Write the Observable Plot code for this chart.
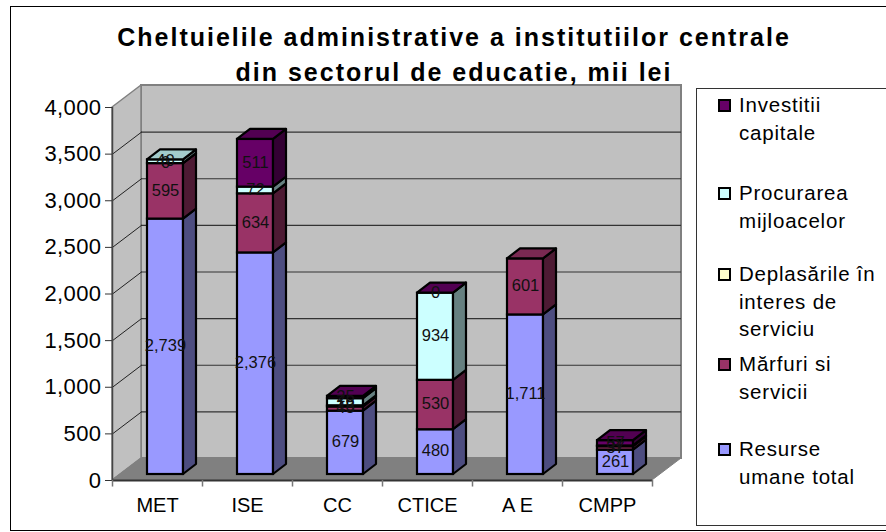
<!DOCTYPE html>
<html>
<head>
<meta charset="utf-8">
<script src="https://cdn.jsdelivr.net/npm/d3@7"></script>
<script src="https://cdn.jsdelivr.net/npm/@observablehq/plot@0.6"></script>
<style>
  html, body { margin: 0; padding: 0; background: #fff; }
  #chart { position: relative; width: 886px; height: 532px; overflow: hidden; font-family: "Liberation Sans", Arial, sans-serif; color: #000; }
  #chart svg { position: absolute; left: 0; top: 0; }
  #frame { position: absolute; left: 10px; top: 6px; width: 900px; height: 525px; border: 1px solid #000; box-sizing: border-box; }
  #title { position: absolute; left: 54px; width: 800px; top: 20px; text-align: center; font-weight: bold; font-size: 25px; line-height: 35px; letter-spacing: 2px; }
  #legend { position: absolute; left: 696px; top: 88px; width: 300px; height: 438px; border: 1px solid #333; box-sizing: border-box; background: #fff; }
  .item { position: absolute; left: 42px; font-size: 20.5px; line-height: 27.5px; letter-spacing: 0.8px; white-space: nowrap; }
  .sw { position: absolute; left: -21px; top: 8px; width: 13px; height: 13px; border: 2px solid #000; box-sizing: border-box; }
  g[aria-label="y-axis tick label"] text { letter-spacing: 0.4px; }
</style>
</head>
<body>
<div id="chart">
  <div id="frame"></div>
  <div id="title">Cheltuielile administrative a institutiilor centrale<br>din sectorul de educatie, mii lei</div>
  <div id="legend"></div>
</div>
<script>
const categories = ["MET", "ISE", "CC", "CTICE", "A E", "CMPP"];
const seriesNames = ["Resurse umane total", "Mărfuri si servicii", "Deplasările în interes de serviciu", "Procurarea mijloacelor", "Investitii capitale"];
const resurse    = [2739, 2376, 679, 480, 1711, 261];
const marfuri    = [595, 634, 45, 530, 601, 37];
const deplasari  = [0, null, 13, null, null, null];
const procurarea = [40, 72, 76, 934, null, 8];
const investitii = [null, 511, 25, 0, null, 57];
const yTicks = [0, 500, 1000, 1500, 2000, 2500, 3000, 3500, 4000];

const front = ["#9999FF", "#993366", "#FFFFCC", "#CCFFFF", "#660066"];
const side  = ["#4D4D80", "#4D1A33", "#808066", "#668080", "#330033"];
const topc  = ["#7A7ACC", "#7A2952", "#CCCCA3", "#A3CCCC", "#520052"];
const legendLines = [
  ["Investitii", "capitale"],
  ["Procurarea", "mijloacelor"],
  ["Deplasările în", "interes de", "serviciu"],
  ["Mărfuri si", "servicii"],
  ["Resurse", "umane total"]
];
const legendColors = [front[4], front[3], front[2], front[1], front[0]];
const legendTops = [2, 90, 171, 261, 346];

const values = [resurse, marfuri, deplasari, procurarea, investitii];

// wall depth in data units (x categories, y value)
const wallX = 29 / 90, wallY = 22 / (373 / 4000);
// column depth and half width
const barDX = 13 / 90, barDY = 10 / (373 / 4000), halfW = 18 / 90;
const barShift = {dx: 8, dy: -6};

const rects = [], sideFaces = [], topFaces = [], labels = [];
categories.forEach((c, i) => {
  let acc = 0, lastK = 0;
  const xc = i + 0.5;
  values.forEach((vs, k) => {
    const v = vs[i];
    if (v === null) return;
    const y1 = acc, y2 = acc + v;
    rects.push({x1: xc - halfW, x2: xc + halfW, y1, y2, fill: front[k]});
    const id = c + k;
    sideFaces.push({id, x: xc + halfW, y1, y2, fill: side[k]});
    sideFaces.push({id, x: xc + halfW + barDX, y1: y1 + barDY, y2: y2 + barDY, fill: side[k]});
    labels.push({x: xc, y: (y1 + y2) / 2, text: d3.format(",")(v)});
    acc = y2; lastK = k;
  });
  topFaces.push({id: c, y: acc, x1: xc - halfW, x2: xc + halfW, fill: topc[lastK]});
  topFaces.push({id: c, y: acc + barDY, x1: xc - halfW + barDX, x2: xc + halfW + barDX, fill: topc[lastK]});
});

const floor = [
  {y: 0, x1: 0, x2: 6},
  {y: wallY, x1: wallX, x2: 6 + wallX}
];
const leftWall = [
  {x: 0, y1: 0, y2: 4000},
  {x: wallX, y1: wallY, y2: 4000 + wallY}
];
const diag = yTicks.flatMap(t => [{t, x: 0, y: t}, {t, x: wallX, y: t + wallY}]);
const wallShift = {dx: 29, dy: -22};

const svg = Plot.plot({
  width: 886, height: 532,
  marginLeft: 112, marginRight: 234, marginTop: 107, marginBottom: 52,
  style: {background: "transparent", fontFamily: '"Liberation Sans", Arial, sans-serif', color: "#000", overflow: "visible"},
  x: {domain: [0, 6]},
  y: {domain: [0, 4000]},
  marks: [
    // back wall, side wall, floor
    Plot.rect([{}], {x1: 0, x2: 6, y1: 0, y2: 4000, fill: "#C0C0C0", stroke: "#808080", strokeWidth: 2, ...wallShift}),
    Plot.areaY(leftWall, {x: "x", y1: "y1", y2: "y2", fill: "#C0C0C0", stroke: "#808080", strokeWidth: 1.5}),
    Plot.ruleY(yTicks.slice(1, -1), {x1: 0, x2: 6, stroke: "#333", strokeWidth: 1.2, ...wallShift}),
    Plot.line(diag.filter(d => d.t > 0 && d.t < 4000), {x: "x", y: "y", z: "t", stroke: "#222", strokeWidth: 1}),
    Plot.areaX(floor, {y: "y", x1: "x1", x2: "x2", fill: "#808080", stroke: "#808080"}),
    // columns
    Plot.rect(rects, {x1: "x1", x2: "x2", y1: "y1", y2: "y2", fill: "fill", stroke: "#000", strokeWidth: 2.2, ...barShift}),
    Plot.areaY(sideFaces, {x: "x", y1: "y1", y2: "y2", z: "id", fill: "fill", stroke: "#000", strokeWidth: 2.2, ...barShift}),
    Plot.areaX(topFaces, {y: "y", x1: "x1", x2: "x2", z: "id", fill: "fill", stroke: "#000", strokeWidth: 2.2, ...barShift}),
    // value labels
    Plot.text(labels, {x: "x", y: "y", text: "text", fontSize: 16.5, fill: "#111", dx: 8, dy: -7}),
    // axes
    Plot.ruleY([0], {x1: 0, x2: 6, stroke: "#333", strokeWidth: 2}),
    Plot.ruleX([0], {y1: 0, y2: 4000, stroke: "#444", strokeWidth: 1.5}),
    Plot.axisY({ticks: yTicks, tickSize: 7, tickPadding: 4, tickFormat: t => d3.format(",")(t), fontSize: 22, stroke: "#333", label: null}),
    Plot.ruleX(d3.range(0, 7), {y1: 0, y2: -70, stroke: "#777", strokeWidth: 1.5}),
    Plot.axisX({ticks: d3.range(0, 6).map(i => i + 0.5), tickSize: 0, tickPadding: 17, tickFormat: t => categories[t - 0.5], fontSize: 20, label: null})
  ]
});
document.getElementById("chart").appendChild(svg);
document.getElementById("chart").appendChild(document.getElementById("title"));
document.getElementById("chart").appendChild(document.getElementById("legend"));

const legend = document.getElementById("legend");
legendLines.forEach((lines, i) => {
  const el = document.createElement("div");
  el.className = "item";
  el.style.top = legendTops[i] + "px";
  el.innerHTML = lines.join("<br>");
  const sw = document.createElement("div");
  sw.className = "sw";
  sw.style.background = legendColors[i];
  el.appendChild(sw);
  legend.appendChild(el);
});
</script>
</body>
</html>
